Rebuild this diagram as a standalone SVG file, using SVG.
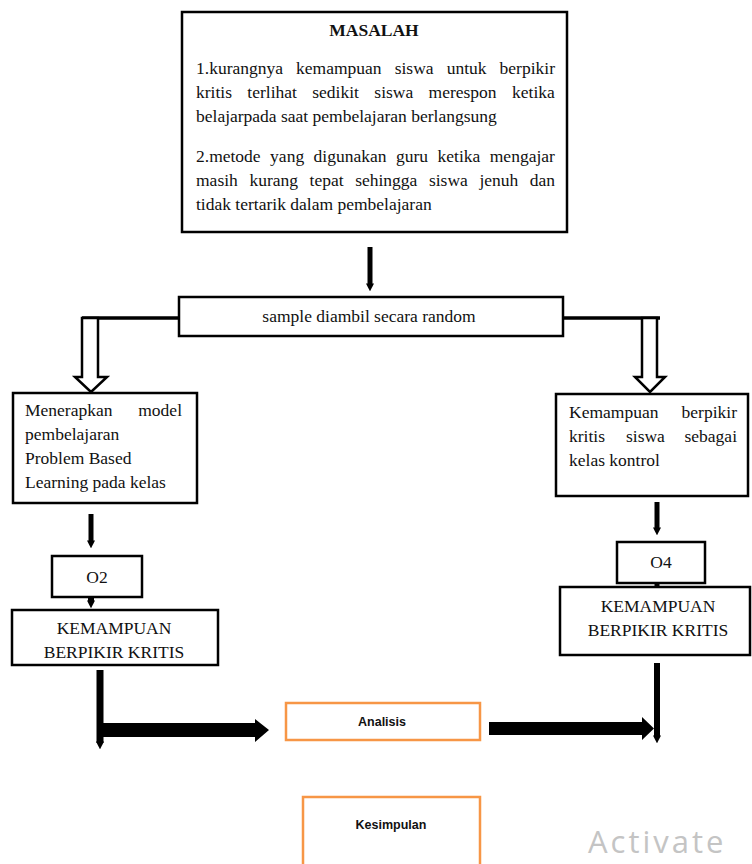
<svg xmlns="http://www.w3.org/2000/svg" width="752" height="864" viewBox="0 0 752 864">
<style>
.box{fill:#fff;stroke:#000;stroke-width:2.5}
.obox{fill:#fff;stroke:#F79646;stroke-width:2.5}
.t{font-family:"Liberation Serif","Times New Roman",serif;font-size:17.5px;fill:#111}
.c{text-anchor:middle}
.s{font-family:"Liberation Sans",Arial,sans-serif;font-size:12.5px;font-weight:bold;fill:#111;text-anchor:middle}
.conn{stroke:#000;fill:none}
.hollow{fill:#fff;stroke:#000;stroke-width:2.5;stroke-linejoin:miter}
</style>
<defs>
<marker id="tip" viewBox="0 0 10 10" refX="2" refY="5" markerWidth="8" markerHeight="8" markerUnits="userSpaceOnUse" orient="auto">
<path d="M0,0 L10,5 L0,10 z" fill="#000"/>
</marker>
</defs>
<rect width="752" height="864" fill="#fff"/>

<g id="connectors">
<line class="conn" x1="370" y1="247" x2="370" y2="285" stroke-width="5" marker-end="url(#tip)"/>
<line class="conn" x1="82" y1="318" x2="180" y2="318" stroke-width="3.5"/>
<polygon class="hollow" points="82,318 82,377 75,377 91,392 107,377 98,377 98,318"/>
<line class="conn" x1="563" y1="318" x2="660" y2="318" stroke-width="3.5"/>
<polygon class="hollow" points="642,318 642,377 635,377 650,392 665,377 657,377 657,318"/>
<line class="conn" x1="91" y1="514" x2="91" y2="542" stroke-width="5" marker-end="url(#tip)"/>
<line class="conn" x1="91" y1="588" x2="91" y2="602" stroke-width="6" marker-end="url(#tip)"/>
<line class="conn" x1="657" y1="502" x2="657" y2="529" stroke-width="5" marker-end="url(#tip)"/>
<line class="conn" x1="657" y1="582" x2="657" y2="588" stroke-width="5"/>
<line class="conn" x1="100" y1="670" x2="100" y2="743" stroke-width="7" marker-end="url(#tip)"/>
<line class="conn" x1="657" y1="663" x2="657" y2="737" stroke-width="6" marker-end="url(#tip)"/>
<polygon points="100,723 255,723 255,719 269,730 255,742 255,737 100,737" fill="#000"/>
<polygon points="489,722 642,722 642,717 654,728.5 642,740 642,735 489,735" fill="#000"/>
</g>

<g id="masalah">
<rect class="box" x="182" y="12" width="385" height="220" stroke-width="3"/>
<text class="t c" x="374" y="36" font-weight="bold">MASALAH</text>
<text class="t" x="196" y="74" word-spacing="8.7">1.kurangnya kemampuan siswa untuk berpikir</text>
<text class="t" x="196" y="98" word-spacing="11">kritis terlihat sedikit siswa merespon ketika</text>
<text class="t" x="196" y="122">belajarpada saat pembelajaran berlangsung</text>
<text class="t" x="196" y="162" word-spacing="5.1">2.metode yang digunakan guru ketika mengajar</text>
<text class="t" x="196" y="186" word-spacing="7.2">masih kurang tepat sehingga siswa jenuh dan</text>
<text class="t" x="196" y="210">tidak tertarik dalam pembelajaran</text>
</g>

<g id="sample">
<rect class="box" x="179" y="297" width="384" height="39"/>
<text class="t c" x="369" y="322">sample diambil secara random</text>
</g>

<g id="eksperimen">
<rect class="box" x="13" y="393" width="184" height="110"/>
<text class="t" x="25" y="416">Menerapkan</text>
<text class="t" x="182" y="416" text-anchor="end">model</text>
<text class="t" x="25" y="440">pembelajaran</text>
<text class="t" x="25" y="464">Problem Based</text>
<text class="t" x="25" y="488">Learning pada kelas</text>
</g>

<g id="kontrol">
<rect class="box" x="556" y="394" width="192" height="102"/>
<text class="t" x="569" y="418">Kemampuan</text>
<text class="t" x="737" y="418" text-anchor="end">berpikir</text>
<text class="t" x="569" y="442">kritis</text>
<text class="t" x="626" y="442">siswa</text>
<text class="t" x="737" y="442" text-anchor="end">sebagai</text>
<text class="t" x="569" y="466">kelas kontrol</text>
</g>

<g id="o2">
<rect class="box" x="52" y="556" width="90" height="41"/>
<text class="t c" x="97" y="583">O2</text>
</g>

<g id="o4">
<rect class="box" x="617" y="542" width="88" height="41"/>
<text class="t c" x="661" y="568">O4</text>
</g>

<g id="kemampuan-kiri">
<rect class="box" x="12" y="610" width="206" height="55"/>
<text class="t c" x="114" y="634">KEMAMPUAN</text>
<text class="t c" x="114" y="658">BERPIKIR KRITIS</text>
</g>

<g id="kemampuan-kanan">
<rect class="box" x="560" y="587" width="190" height="68"/>
<text class="t c" x="658" y="612">KEMAMPUAN</text>
<text class="t c" x="658" y="636">BERPIKIR KRITIS</text>
</g>

<g id="analisis">
<rect class="obox" x="286" y="703" width="194" height="37"/>
<text class="s" x="382" y="726">Analisis</text>
</g>

<g id="kesimpulan">
<rect class="obox" x="303" y="797" width="177" height="80"/>
<text class="s" x="391" y="829">Kesimpulan</text>
</g>

<text x="588" y="853" font-family="'Open Sans','Noto Sans',sans-serif" font-size="31" letter-spacing="3" fill="#c4c4c4">Activate</text>
</svg>
